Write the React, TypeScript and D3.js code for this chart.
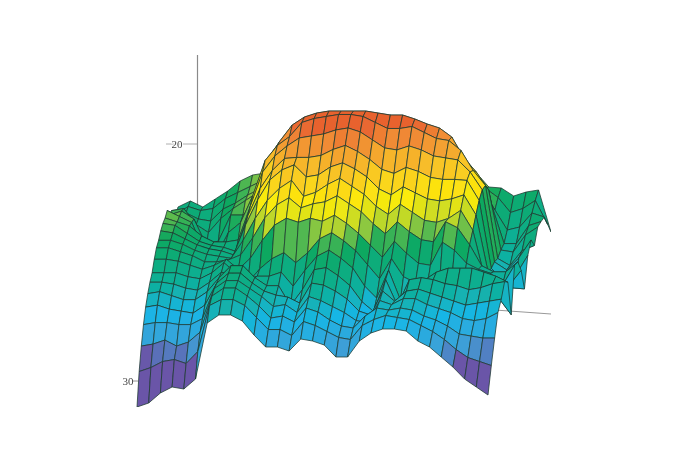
import React from "react";
import * as d3 from "d3";

// Depth readings, one array per mesh row, front row first (axis runs 20 at the top to 30 at the bottom).
const row00 = [31.3,31.1,30.6,30.3,30.4,29.9,27.1,26.7,26.7,27.0,27.7,28.3,28.3,28.5,27.9,28.0,28.2,28.8,28.8,28.0,27.6,27.4,27.4,27.5,28.0,28.3,28.8,29.3,29.9,30.3,30.7];
const row01 = [29.7,29.5,29.2,29.1,29.3,28.7,26.4,26.1,26.1,26.4,27.0,27.6,27.6,27.9,27.2,27.4,27.7,28.0,28.1,27.4,27.1,26.9,27.0,27.1,27.4,27.7,28.1,28.6,29.0,29.2,29.4];
const row02 = [28.6,28.5,28.3,28.6,28.4,27.9,26.1,25.7,25.7,26.1,26.6,27.2,27.1,27.4,26.7,26.9,27.3,27.6,27.7,27.1,26.7,26.8,26.7,26.8,27.1,27.3,27.6,28.0,28.1,28.2,28.2];
const row03 = [27.7,27.6,27.6,27.7,27.7,27.4,25.9,25.5,25.5,25.9,26.3,26.8,26.7,27.1,26.3,26.5,26.8,27.1,27.5,27.6,26.5,26.7,26.4,26.4,26.7,26.9,27.1,27.4,27.5,27.4,27.1];
const row04 = [27.0,26.9,27.1,27.2,27.3,26.9,25.8,25.3,25.3,25.8,26.2,26.4,26.5,26.8,25.8,25.9,26.2,26.6,27.2,27.4,26.2,26.7,26.2,26.1,26.3,26.5,26.7,26.9,26.8,26.7,26.6];
const row05 = [26.5,26.4,26.6,26.8,26.8,26.4,25.7,25.1,25.1,25.7,26.1,26.1,27.1,26.3,25.3,25.2,25.6,26.1,26.9,27.4,25.8,27.1,25.8,25.7,25.8,26.0,26.1,26.3,26.2,26.0,25.9];
const row06 = [26.1,26.1,26.2,26.4,26.5,26.1,25.6,25.8,26.0,25.8,25.8,25.6,26.3,25.5,24.8,24.5,24.9,25.4,26.3,26.9,25.5,27.0,26.5,26.0,25.6,25.4,25.4,25.4,25.6,25.8,26.1];
const row07 = [25.8,25.8,25.8,26.0,26.1,25.8,25.3,25.8,26.3,25.6,25.1,24.8,25.3,24.8,24.1,23.8,24.2,24.7,25.4,26.1,25.1,26.0,26.3,26.4,26.4,26.4,26.3,26.2,26.6,27.1,27.9];
const row08 = [25.3,25.3,25.4,25.6,25.8,25.6,25.3,25.8,25.25,24.35,23.6,23.25,23.45,23.25,23.4,23.1,23.5,24.0,24.6,25.2,24.4,25.0,25.5,25.6,24.45,24.85,25.5,25.8,26.0,26.6,25.6];
const row09 = [24.9,24.9,25.1,25.3,25.6,25.6,25.5,25.25,24.4,23.4,22.75,22.4,22.9,22.7,22.6,22.3,22.7,23.1,23.7,24.2,23.6,24.1,24.5,24.6,23.6,23.9,24.75,25.8,26.1,26.1,25.6];
const row10 = [24.7,24.7,24.9,25.2,25.4,25.5,25.6,24.7,23.6,22.7,22.1,21.7,22.5,22.3,21.9,21.6,22.0,22.4,23.0,23.4,22.9,23.3,23.7,23.8,23.6,23.2,24.2,26.6,27.2,26.95,26.2];
const row11 = [24.4,24.5,24.8,25.1,25.3,25.4,25.6,24.1,22.85,21.85,21.35,21.1,21.7,21.6,21.2,21.0,21.3,21.7,22.3,22.6,22.2,22.5,22.8,22.9,22.8,22.6,23.6,26.45,27.1,27.25,27.3];
const row12 = [24.2,24.3,24.7,25.1,25.3,25.4,25.6,23.8,22.45,21.55,20.95,20.9,20.9,20.8,20.5,20.3,20.6,21.0,21.5,21.7,21.4,21.6,21.9,22.0,22.0,22.05,23.05,26.45,27.05,26.8,25.8];
const row13 = [24.1,24.3,24.5,25.0,25.3,25.3,25.2,23.5,21.8,21.0,20.5,20.1,20.0,19.9,19.7,19.6,19.8,20.2,20.6,20.7,20.5,20.7,21.0,21.1,21.2,21.8,22.7,26.3,26.7,26.1,25.2];
const row14 = [23.9,24.2,24.5,25.9,26.2,25.0,24.5,23.15,21.4,20.65,20.2,19.5,19.3,19.2,19.1,19.1,19.2,19.5,19.8,19.8,19.7,20.0,20.3,20.4,20.9,21.9,22.65,26.3,26.65,25.9,25.65];
const row15 = [24.3,24.1,24.5,25.8,25.6,24.3,24.3,23.7,21.5,20.6,19.8,19.4,19.2,19.1,19.1,19.1,19.1,19.2,19.3,19.3,19.5,19.75,19.95,20.4,21.45,22.15,23.05,26.05,26.15,25.3,24.9];
const row16 = [24.5,24.4,25.2,25.6,24.9,24.4,24.0,23.6,22.2,21.4,20.6,20.2,20.0,19.9,19.8,19.8,19.8,19.8,19.8,19.9,20.1,20.6,21.0,21.7,22.4,23.3,24.25,26.15,26.15,25.25,25.05];
const row17 = [25.35,25.05,25.35,25.45,24.85,24.55,24.15,23.85,23.15,22.45,21.65,21.05,20.65,20.55,20.55,20.45,20.45,20.45,20.45,20.55,20.65,20.95,21.45,22.05,22.85,23.85,24.9,25.9,25.75,25.05,25.25];
const row18 = [25.55,25.15,25.35,25.25,24.75,24.45,24.15,23.85,23.45,22.95,22.45,21.95,21.55,21.35,21.25,21.25,21.25,21.25,21.25,21.25,21.45,21.75,22.25,22.75,23.35,24.25,24.7,25.45,25.25,24.85,26.05];
const row19 = [25.6,25.3,25.6,25.2,24.8,24.3,24.0,23.9,23.9,23.8,23.5,23.3,23.0,22.8,22.5,22.5,22.5,22.5,22.5,22.5,22.8,23.0,23.3,23.5,23.9,24.6,24.65,25.05,24.85,24.75,26.85];

const meshRows = [row00,row01,row02,row03,row04,row05,row06,row07,row08,row09,row10,row11,row12,row13,row14,row15,row16,row17,row18,row19];
const axisTicks = [20, 30];

const colorDepths = [19.6, 20.2, 21.4, 22.7, 23.6, 24.0, 24.6, 26.2, 27.2, 28.5, 29.1];
const colorValues = ["#e8622f", "#f08a35", "#f8c228", "#fdec0a", "#b9d62c", "#72c04a", "#0ea85e", "#10b09c", "#18b6e6", "#3f9ed6", "#6a55a8"];

const color = d3.scaleLinear<string>().domain(colorDepths).range(colorValues).interpolate(d3.interpolateRgb).clamp(true);

const colCount = row00.length;
const rowCount = meshRows.length;

// Ground plane of the oblique view
const depthFrac = d3.scaleLinear().domain([0, rowCount - 1]).range([0, 1]);
const frontX = d3.scaleLinear().domain([0, colCount - 1]).range([137, 488]);
const backX = d3.scaleLinear().domain([0, colCount - 1]).range([178, 551]);
const groundY = d3.scaleLinear().domain([0, 0.79, 1]).range([181, 129, 95]);
const depthPx = d3.scaleLinear().domain([20, 30]).range([0, 200]);
const axisY = d3.scaleLinear().domain([20, 30]).range([144, 381]);

const px = (i: number, j: number) => {
  const t = depthFrac(j);
  return frontX(i) * (1 - t) + backX(i) * t;
};
const py = (i: number, j: number) => groundY(depthFrac(j)) + depthPx(meshRows[j][i]);

const lineGen = d3.line<[number, number]>();

export default function App() {
  const quads: React.ReactElement[] = [];
  for (let j = rowCount - 2; j >= 0; j--) {
    for (let i = 0; i < colCount - 1; i++) {
      const pts: [number, number][] = [
        [px(i, j), py(i, j)],
        [px(i + 1, j), py(i + 1, j)],
        [px(i + 1, j + 1), py(i + 1, j + 1)],
        [px(i, j + 1), py(i, j + 1)],
      ];
      const mean = (meshRows[j][i] + meshRows[j][i + 1] + meshRows[j + 1][i] + meshRows[j + 1][i + 1]) / 4;
      quads.push(
        <path key={`${j}-${i}`} d={lineGen(pts) + "Z"} fill={color(mean)} stroke="#1d3a30" strokeOpacity={0.85} strokeWidth={0.9} strokeLinejoin="round" />
      );
    }
  }
  return (
    <svg width={696} height={464} style={{ position: "absolute", left: 0, top: 0, background: "#fff" }}>
      <defs>
        <filter id="soft" x="0" y="0" width="1" height="1">
          <feGaussianBlur stdDeviation="0.45" />
        </filter>
      </defs>
      <g filter="url(#soft)">
        <line x1={197.5} x2={197.5} y1={55} y2={215} stroke="#8a8a8a" strokeWidth={1.2} />
        <line x1={166} x2={197} y1={axisY(axisTicks[0])} y2={axisY(axisTicks[0])} stroke="#999" strokeWidth={0.8} />
        <line x1={495} x2={551} y1={310} y2={314} stroke="#999" strokeWidth={1} />
        <line x1={133} x2={138} y1={axisY(axisTicks[1])} y2={axisY(axisTicks[1])} stroke="#777" strokeWidth={0.8} />
        <g>{quads}</g>
        <text x={177} y={axisY(axisTicks[0]) + 4} textAnchor="middle" fontFamily="Liberation Serif" fontSize={11} fill="#444" stroke="#fff" strokeWidth={2} paintOrder="stroke">{axisTicks[0]}</text>
        <text x={128} y={axisY(axisTicks[1]) + 4} textAnchor="middle" fontFamily="Liberation Serif" fontSize={11} fill="#444">{axisTicks[1]}</text>
      </g>
    </svg>
  );
}
